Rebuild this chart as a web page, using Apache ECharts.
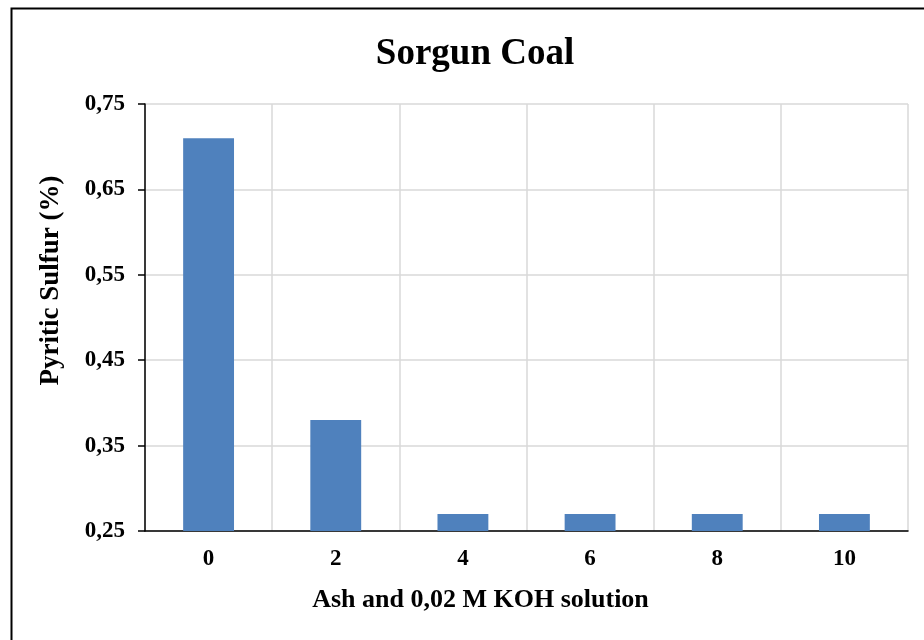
<!DOCTYPE html>
<html>
<head>
<meta charset="utf-8">
<script src="https://cdn.jsdelivr.net/npm/echarts@6/dist/echarts.min.js"></script>
<style>
html,body{margin:0;padding:0;background:#fff;}
#c{width:924px;height:640px;}
</style>
</head>
<body>
<div id="c"></div>
<script>
const categories = ['0', '2', '4', '6', '8', '10'];
const pyriticSulfur = [0.71, 0.38, 0.27, 0.27, 0.27, 0.27];
const titleText = 'Sorgun Coal';
const xName = 'Ash and 0,02 M KOH solution';
const yName = 'Pyritic Sulfur (%)';

const font = '"Liberation Serif", "Times New Roman", serif';
const chart = echarts.init(document.getElementById('c'));
chart.setOption({
  animation: false,
  graphic: [{
    type: 'rect', left: 9, top: 6, silent: true,
    shape: { width: 940, height: 660 },
    style: { fill: 'none', stroke: '#000', lineWidth: 2 }
  }],
  title: {
    text: titleText, left: 470, top: 31, textAlign: 'center',
    textStyle: { fontFamily: font, fontWeight: 'bold', fontSize: 37, color: '#000' }
  },
  grid: { left: 145, right: 16, top: 104, bottom: 109, containLabel: false },
  xAxis: {
    type: 'category', data: categories,
    name: xName, nameLocation: 'middle', nameGap: 56,
    nameTextStyle: { fontFamily: font, fontWeight: 'bold', fontSize: 26, color: '#000', padding: [0, 92, 0, 0] },
    axisLine: { lineStyle: { color: '#000', width: 1.5 } },
    axisTick: { show: false },
    axisLabel: { fontFamily: font, fontWeight: 'bold', fontSize: 23, color: '#000', margin: 17 },
    splitLine: { show: true, lineStyle: { color: '#d9d9d9', width: 1.5 } }
  },
  yAxis: {
    type: 'value', min: 0.25, max: 0.75, interval: 0.1,
    name: yName, nameLocation: 'middle', nameGap: 80, nameRotate: 90,
    nameTextStyle: { fontFamily: font, fontWeight: 'bold', fontSize: 27, color: '#000', padding: [0, 0, 0, 74] },
    axisLine: { show: true, lineStyle: { color: '#000', width: 1.5 } },
    axisTick: { show: true, length: 7, lineStyle: { color: '#000', width: 1.5 } },
    axisLabel: {
      fontFamily: font, fontWeight: 'bold', fontSize: 23, color: '#000', margin: 20,
      formatter: v => v.toFixed(2).replace('.', ',')
    },
    splitLine: { show: true, lineStyle: { color: '#d9d9d9', width: 1.5 } }
  },
  series: [{
    type: 'bar', data: pyriticSulfur, barWidth: '40%',
    itemStyle: { color: '#4f81bd' }
  }]
});
</script>
</body>
</html>
